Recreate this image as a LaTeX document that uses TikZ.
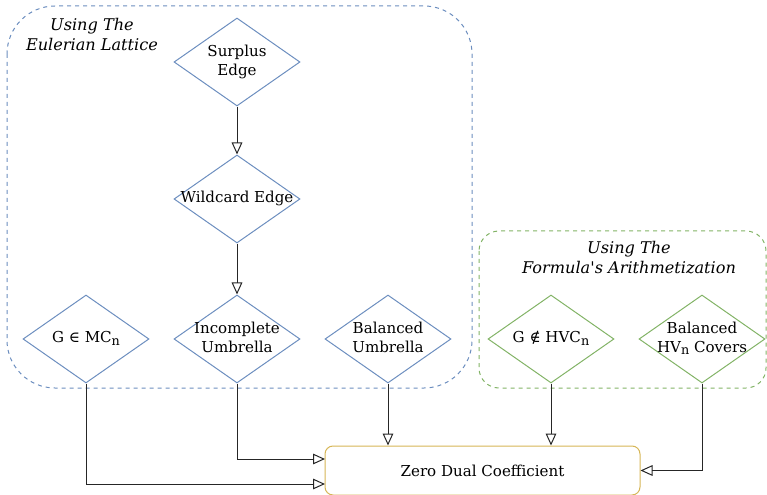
\documentclass[tikz,border=0pt]{standalone}
\usepackage{fontspec}
\setmainfont{DejaVu Serif}[Ligatures=TeXOff]
\usetikzlibrary{shapes.geometric,arrows.meta}

\definecolor{lattblue}{HTML}{6C8EBF}
\definecolor{arithgreen}{HTML}{82B366}
\definecolor{zeroyellow}{HTML}{D6B656}

\newcommand{\dlabel}[1]{\makebox[0pt]{\begin{tabular}{@{}c@{}}#1\end{tabular}}}
\newcommand{\subn}{\raisebox{-0.3ex}{\fontsize{9.6}{10}\selectfont n}}

\tikzset{
  decision/.style={diamond, draw, line width=0.75pt, minimum width=94.5pt, minimum height=66pt, inner sep=0pt},
  lattnode/.style={decision, draw=lattblue},
  arithnode/.style={decision, draw=arithgreen},
  groupbox/.style={dash pattern=on 3pt off 3pt, line width=0.75pt},
  grouptitle/.style={align=center, font=\itshape\fontsize{12.1}{15}\selectfont},
  flow/.style={-{Triangle[open,length=9pt,width=8pt]}, line width=0.75pt, draw=black!85},
}

\begin{document}
\begin{tikzpicture}[x=0.75pt,y=-0.75pt,font=\fontsize{11.3}{14.3}\selectfont]

\useasboundingbox (0,0) rectangle (767,495);
\clip (0,0) rectangle (767,495);

\draw[groupbox,lattblue,rounded corners=36pt] (7,6) rectangle (472,388);
\draw[groupbox,arithgreen,rounded corners=15pt] (479,231) rectangle (766,388);

\node[grouptitle] (latttitle) at (92,34) {Using The\\Eulerian Lattice};
\node[grouptitle] (arithtitle) at (629,258) {Using The\\Formula's Arithmetization};

\node[lattnode] (surplus) at (237,62) {\dlabel{Surplus\\Edge}};
\node[lattnode] (wildcard) at (237,199) {\dlabel{Wildcard Edge}};
\node[lattnode] (incumb) at (237,339) {\dlabel{Incomplete\\Umbrella}};
\node[lattnode] (inmc) at (86,339) {\dlabel{G ∈ MC\subn}};
\node[lattnode] (balumb) at (388,339) {\dlabel{Balanced\\Umbrella}};

\node[arithnode] (notinhvc) at (551,339) {\dlabel{G ∉ HVC\subn}};
\node[arithnode] (balhv) at (702,339) {\dlabel{Balanced\\HV\subn{} Covers}};

\node[draw=zeroyellow, line width=0.75pt, rounded corners=6pt, minimum width=236.25pt, minimum height=36.75pt] (zerodual) at (482.5,470.5) {Zero Dual Coefficient};

\coordinate (zdin1) at (325,459);
\coordinate (zdin2) at (325,484);

\draw[flow] (surplus) -- (wildcard);
\draw[flow] (wildcard) -- (incumb);
\draw[flow] (incumb.south) |- (zdin1);
\draw[flow] (inmc.south) |- (zdin2);
\draw[flow] (balumb.south) -- (balumb.south |- zerodual.north);
\draw[flow] (notinhvc.south) -- (notinhvc.south |- zerodual.north);
\draw[flow] (balhv.south) |- (zerodual.east);

\end{tikzpicture}
\end{document}
